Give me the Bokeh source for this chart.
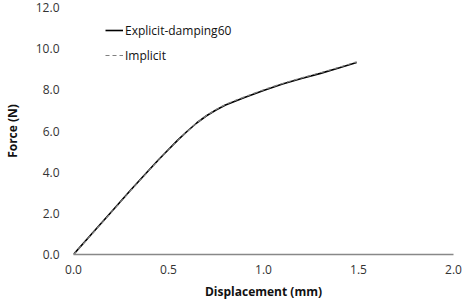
from bokeh.plotting import figure
from bokeh.models import Range1d, FixedTicker, Legend, LegendItem
from bokeh.embed import file_html
from bokeh.resources import INLINE

disp_explicit = [0.0, 0.1, 0.2, 0.3, 0.4, 0.45, 0.5, 0.55, 0.6, 0.65, 0.7, 0.75, 0.8, 0.85, 0.9, 1.0, 1.1, 1.2, 1.3, 1.4, 1.49]
force_explicit = [0.0, 1.04, 2.08, 3.12, 4.13, 4.63, 5.1, 5.57, 6.0, 6.4, 6.74, 7.02, 7.26, 7.45, 7.63, 7.97, 8.28, 8.55, 8.8, 9.07, 9.33]
disp_implicit = [0.0, 0.1, 0.2, 0.3, 0.4, 0.45, 0.5, 0.55, 0.6, 0.65, 0.7, 0.75, 0.8, 0.85, 0.9, 1.0, 1.1, 1.2, 1.3, 1.4, 1.49]
force_implicit = [0.0, 1.02, 2.06, 3.1, 4.11, 4.61, 5.08, 5.55, 5.99, 6.4, 6.75, 7.04, 7.29, 7.48, 7.66, 8.0, 8.31, 8.58, 8.83, 9.1, 9.36]
x_ticks = [0.0, 0.5, 1.0, 1.5, 2.0]
y_ticks = [0.0, 2.0, 4.0, 6.0, 8.0, 10.0, 12.0]

FONT = "Open Sans"

p = figure(width=474, height=307, output_backend="svg", toolbar_location=None,
           x_range=Range1d(0, 2.0), y_range=Range1d(0, 12.0),
           min_border_left=68, min_border_right=21, min_border_top=7, min_border_bottom=53)
p.outline_line_color = None
p.xgrid.visible = False
p.ygrid.visible = False

r1 = p.line(disp_explicit, force_explicit, line_color="black", line_width=1.6)
r2 = p.line(disp_implicit, force_implicit, line_color="#808080", line_width=1.2, line_dash="4 3")

p.xaxis.ticker = FixedTicker(ticks=x_ticks)
p.yaxis.ticker = FixedTicker(ticks=y_ticks)
p.xaxis.major_label_overrides = {t: f"{t:.1f}" for t in x_ticks}
p.yaxis.major_label_overrides = {t: f"{t:.1f}" for t in y_ticks}
for ax in (p.xaxis, p.yaxis):
    ax.major_tick_line_color = None
    ax.minor_tick_line_color = None
    ax.major_label_text_font = FONT
    ax.major_label_text_font_size = "12px"
    ax.major_label_text_color = "#333333"
    ax.axis_label_text_font = FONT
    ax.axis_label_text_font_size = "12px"
    ax.axis_label_text_font_style = "bold"
    ax.axis_label_text_color = "#111111"
p.xaxis.axis_line_color = "#888888"
p.xaxis.axis_line_width = 1.5
p.yaxis.axis_line_color = None
p.xaxis.axis_label = "Displacement (mm)"
p.yaxis.axis_label = "Force (N)"
p.xaxis.major_label_standoff = 4
p.yaxis.major_label_standoff = 8
p.xaxis.axis_label_standoff = 6
p.yaxis.axis_label_standoff = 12

legend = Legend(items=[LegendItem(label="Explicit-damping60", renderers=[r1]),
                       LegendItem(label="Implicit", renderers=[r2])],
                location=(32, 189))
legend.border_line_color = None
legend.background_fill_alpha = 0
legend.label_text_font = FONT
legend.label_text_font_size = "12px"
legend.label_text_color = "#111111"
legend.glyph_width = 18
legend.label_standoff = 2
legend.spacing = 5
legend.padding = 4
p.add_layout(legend, "center")

open("out.html", "w").write(file_html(p, INLINE))
